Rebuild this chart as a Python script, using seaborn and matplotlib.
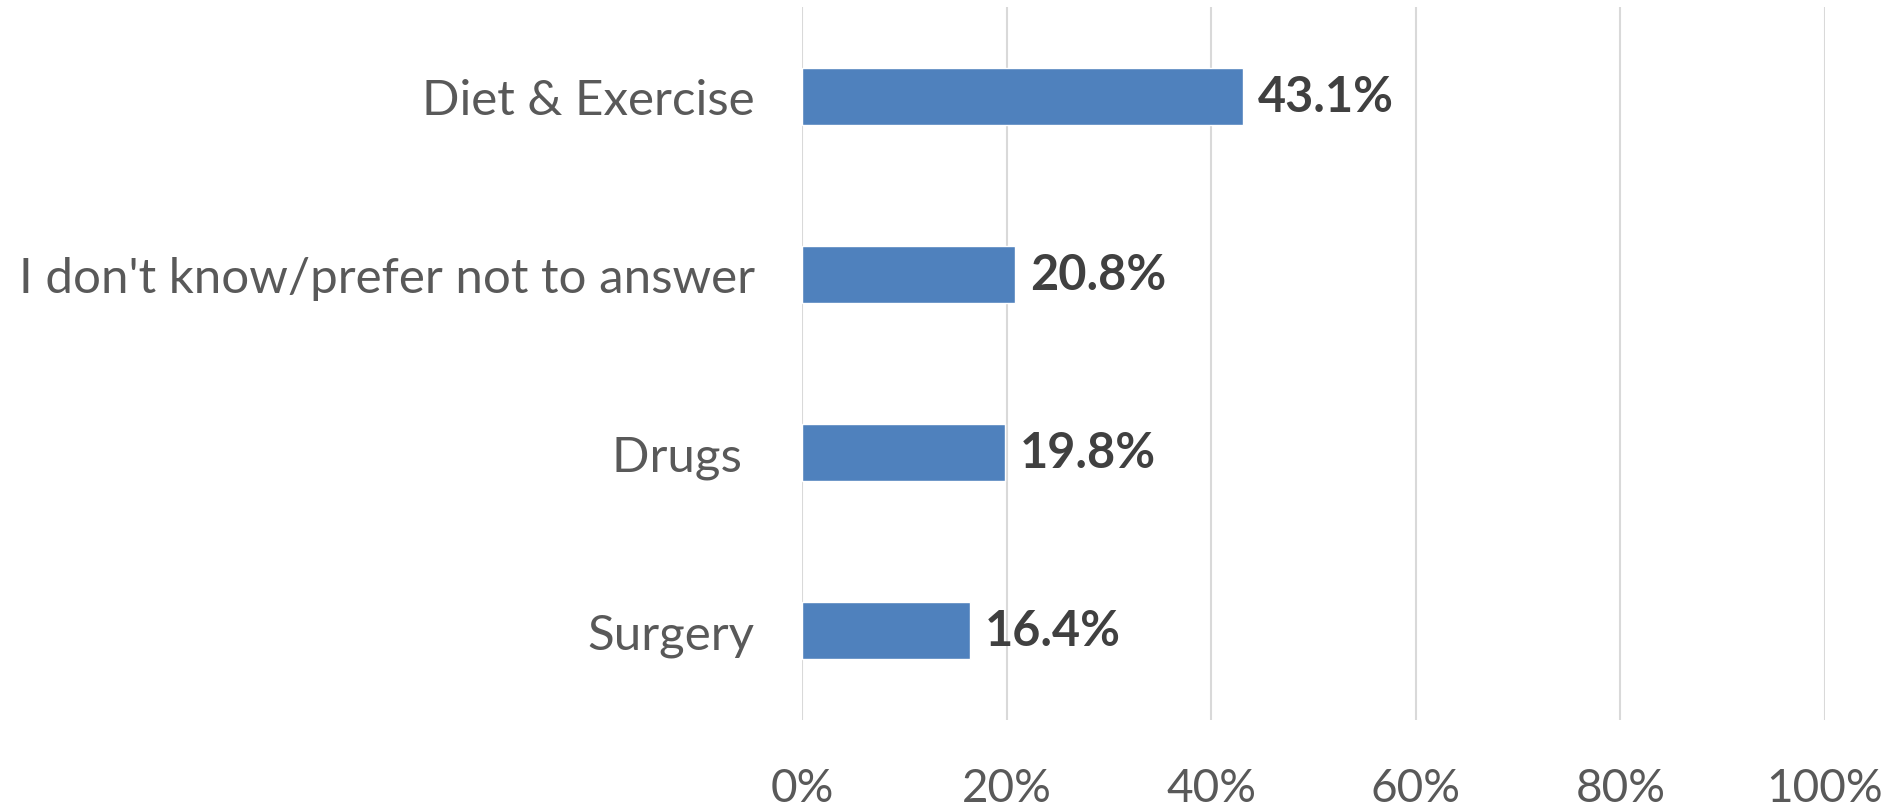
import pandas as pd
import matplotlib.pyplot as plt
import matplotlib.ticker as mtick
import seaborn as sns

# Survey data (percent of respondents)
categories = ['Diet & Exercise', "I don't know/prefer not to answer", 'Drugs ', 'Surgery']
values = [43.1, 20.8, 19.8, 16.4]
x_ticks = [0, 20, 40, 60, 80, 100]

df = pd.DataFrame({'Option': categories, 'Percent': values})

sns.set_style('white')
plt.rcParams['font.family'] = ['Lato', 'DejaVu Sans']

fig = plt.figure(figsize=(18.89, 8.12), dpi=100)
ax = fig.add_axes([0.4246, 0.112, 0.5415, 0.878])

sns.barplot(x='Percent', y='Option', data=df, color='#4F81BD', saturation=1,
            width=0.32, ax=ax, zorder=3)

ax.set_xlim(0, 100)
ax.set_xticks(x_ticks)
ax.xaxis.set_major_formatter(mtick.PercentFormatter(decimals=0))
ax.grid(axis='x', color='#D9D9D9', linewidth=1.5, zorder=0)
ax.set_axisbelow(True)

ax.tick_params(axis='x', length=0, pad=34, labelsize=33, labelcolor='#595959')
ax.tick_params(axis='y', length=0, pad=34, labelsize=35.5, labelcolor='#595959')
ax.set_xlabel('')
ax.set_ylabel('')
for s in ax.spines.values():
    s.set_visible(False)

for p, v in zip(ax.patches, values):
    ax.annotate(f'{v:.1f}%', (p.get_width(), p.get_y() + p.get_height() / 2),
                xytext=(11, 0), textcoords='offset points', va='center', ha='left',
                fontsize=35, fontweight='bold', color='#404040')

fig.savefig('out.png', dpi=100)
